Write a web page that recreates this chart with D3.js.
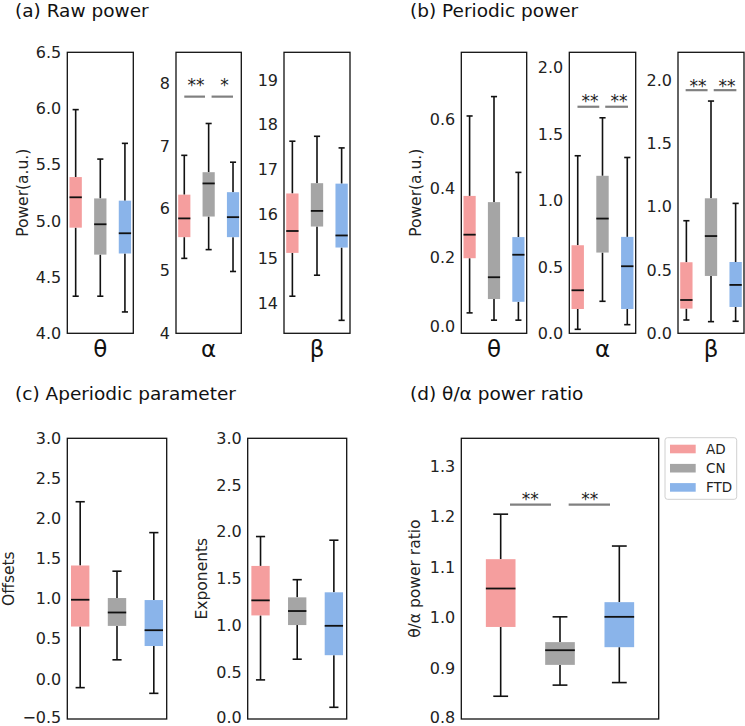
<!DOCTYPE html>
<html><head><meta charset="utf-8">
<script src="https://cdn.jsdelivr.net/npm/d3@7"></script>
<style>body{margin:0;background:#fff}svg{display:block}</style>
</head><body>
<script>
// ---------- DATA ----------
const groups = ["AD", "CN", "FTD"];
const groupColors = ["#f59e9e", "#a5a5a5", "#8ab4ea"];
// each row: [lower whisker, Q1, median, Q3, upper whisker]
const rawTheta = [[4.33,4.94,5.21,5.39,5.99],[4.33,4.70,4.97,5.20,5.55],[4.19,4.71,4.89,5.18,5.69]];
const rawAlpha = [[5.20,5.54,5.84,6.22,6.85],[5.34,5.87,6.40,6.58,7.36],[4.99,5.54,5.86,6.26,6.74]];
const rawBeta  = [[14.16,15.13,15.62,16.46,17.63],[14.63,15.72,16.07,16.69,17.74],[13.62,15.25,15.52,16.68,17.48]];
const perTheta = [[0.040,0.198,0.266,0.378,0.609],[0.019,0.080,0.143,0.360,0.665],[0.019,0.072,0.208,0.259,0.446]];
const perAlpha = [[0.030,0.183,0.324,0.663,1.337],[0.241,0.608,0.864,1.186,1.623],[0.065,0.183,0.505,0.726,1.324]];
const perBeta  = [[0.105,0.195,0.263,0.561,0.889],[0.092,0.453,0.768,1.066,1.834],[0.095,0.208,0.382,0.563,1.026]];
const offsets   = [[-0.109,0.653,0.987,1.414,2.209],[0.238,0.661,0.828,1.008,1.343],[-0.180,0.410,0.607,0.983,1.824]];
const exponents = [[0.418,1.107,1.268,1.636,1.950],[0.639,1.004,1.154,1.300,1.489],[0.125,0.682,0.996,1.354,1.911]];
const ratio     = [[0.845,0.982,1.058,1.116,1.205],[0.867,0.907,0.936,0.952,1.002],[0.872,0.942,1.002,1.031,1.142]];

const ticksRawTheta = [4.0,4.5,5.0,5.5,6.0,6.5];
const ticksRawAlpha = [4,5,6,7,8];
const ticksRawBeta  = [14,15,16,17,18,19];
const ticksPerTheta = [0.0,0.2,0.4,0.6];
const ticksPerAB    = [0.0,0.5,1.0,1.5,2.0];
const ticksOffsets  = [-0.5,0.0,0.5,1.0,1.5,2.0,2.5,3.0];
const ticksExp      = [0.0,0.5,1.0,1.5,2.0,2.5,3.0];
const ticksRatio    = [0.8,0.9,1.0,1.1,1.2,1.3];

const domRawTheta = [4.0, 6.5], domRawAlpha = [4.0, 8.5], domRawBeta = [13.33, 19.62];
const domPerTheta = [-0.019, 0.793], domPerAlpha = [0, 2.116], domPerBeta = [0, 2.219];
const domOffsets = [-0.5, 3.0], domExp = [0, 3.0], domRatio = [0.8, 1.355];

// significance: [x from, x to, y] lines and [x, y(center), label] texts
const sigRawAlphaLines = [[1.0,1.85,7.79],[2.12,3.0,7.79]];
const sigRawAlphaText  = [[1.48,8.045,"**"],[2.65,8.045,"*"]];
const sigPerAlphaLines = [[0.99,1.87,1.706],[2.11,3.03,1.706]];
const sigPerAlphaText  = [[1.5,1.777,"**"],[2.67,1.777,"**"]];
const sigPerBetaLines  = [[0.97,1.86,1.92],[2.11,3.03,1.92]];
const sigPerBetaText   = [[1.47,1.986,"**"],[2.645,1.986,"**"]];
const sigRatioLines    = [[1.157,1.848,1.224],[2.146,2.843,1.224]];
const sigRatioText     = [[1.5,1.243,"**"],[2.5,1.243,"**"]];

const titles = ["(a) Raw power","(b) Periodic power","(c) Aperiodic parameter","(d) θ/α power ratio"];

// ---------- DRAW ----------
const FONT = '"DejaVu Sans"';
const svg = d3.select("body").append("svg").attr("width",745).attr("height",726);

function txt(sel){ return sel.style("font-family",FONT); }

function panel(o){
  const g = svg.append("g");
  const x = d3.scaleLinear().domain(o.xlim || [0.66,3.34]).range([o.x0,o.x1]);
  const y = d3.scaleLinear().domain(o.dom).range([o.y1,o.y0]);
  const bw = x(0.5) - x(0);
  const ax = d3.axisLeft(y).tickValues(o.ticks).tickFormat(o.fmt).tickSize(0).tickPadding(6);
  const ag = g.append("g").attr("transform",`translate(${o.x0},0)`).call(ax);
  ag.select(".domain").remove();
  ag.selectAll("text").attr("font-size",16).attr("fill","#222").style("font-family",FONT)
    .attr("dy", d => y(d) > 715 ? "0.2em" : "0.32em");
  o.data.forEach((d,i)=>{
    const cx = x(i+1);
    const bg = g.append("g");
    bg.append("line").attr("x1",cx).attr("x2",cx).attr("y1",y(d[3])).attr("y2",y(d[4])).attr("stroke","#111").attr("stroke-width",1.6);
    bg.append("line").attr("x1",cx).attr("x2",cx).attr("y1",y(d[1])).attr("y2",y(d[0])).attr("stroke","#111").attr("stroke-width",1.6);
    [d[0],d[4]].forEach(v=>bg.append("line").attr("x1",cx-bw/4).attr("x2",cx+bw/4).attr("y1",y(v)).attr("y2",y(v)).attr("stroke","#111").attr("stroke-width",1.6));
    bg.append("rect").attr("x",cx-bw/2).attr("width",bw).attr("y",y(d[3])).attr("height",y(d[1])-y(d[3])).attr("fill",groupColors[i]);
    bg.append("line").attr("x1",cx-bw/2).attr("x2",cx+bw/2).attr("y1",y(d[2])).attr("y2",y(d[2])).attr("stroke","#111").attr("stroke-width",1.8);
  });
  (o.sigLines||[]).forEach(s=>g.append("line").attr("x1",x(s[0])).attr("x2",x(s[1])).attr("y1",y(s[2])).attr("y2",y(s[2])).attr("stroke","#808080").attr("stroke-width",2.2));
  (o.sigText||[]).forEach(s=>txt(g.append("text").attr("x",x(s[0])).attr("y",y(s[1])+10).attr("text-anchor","middle").attr("font-size",17).attr("fill","#222").text(s[2])));
  g.append("rect").attr("x",o.x0).attr("y",o.y0).attr("width",o.x1-o.x0).attr("height",o.y1-o.y0).attr("fill","none").attr("stroke","#111").attr("stroke-width",1.3);
  if(o.xlabel) txt(g.append("text").attr("x",(o.x0+o.x1)/2).attr("y",o.y1+23.5).attr("text-anchor","middle").attr("font-size",23).attr("fill","#111").text(o.xlabel));
  if(o.ylabel) txt(g.append("text").attr("transform",`translate(${o.ylx},${(o.y0+o.y1)/2}) rotate(-90)`).attr("text-anchor","middle").attr("dominant-baseline","central").attr("font-size",15.5).attr("fill","#222").text(o.ylabel));
  return {x,y};
}
const f1 = d3.format(".1f"), f0 = d3.format("d");
const T = 52.3, B = 333.3;
panel({x0:67.3,x1:133.3,y0:T,y1:B,dom:domRawTheta,ticks:ticksRawTheta,fmt:f1,data:rawTheta,xlabel:"θ",ylabel:"Power(a.u.)",ylx:22.5});
panel({x0:176,x1:241.3,y0:T,y1:B,dom:domRawAlpha,ticks:ticksRawAlpha,fmt:f0,data:rawAlpha,xlabel:"α",sigLines:sigRawAlphaLines,sigText:sigRawAlphaText});
panel({x0:284,x1:350,y0:T,y1:B,dom:domRawBeta,ticks:ticksRawBeta,fmt:f0,data:rawBeta,xlabel:"β"});
panel({x0:461.3,x1:526.7,y0:T,y1:B,dom:domPerTheta,ticks:ticksPerTheta,fmt:f1,data:perTheta,xlabel:"θ",ylabel:"Power(a.u.)",ylx:416.3});
panel({x0:569.3,x1:635.7,y0:T,y1:B,dom:domPerAlpha,ticks:ticksPerAB,fmt:f1,data:perAlpha,xlabel:"α",sigLines:sigPerAlphaLines,sigText:sigPerAlphaText});
panel({x0:678,x1:744,y0:T,y1:B,dom:domPerBeta,ticks:ticksPerAB,fmt:f1,data:perBeta,xlabel:"β",sigLines:sigPerBetaLines,sigText:sigPerBetaText});
const T2 = 438.3, B2 = 719;
panel({x0:67.3,x1:166.7,y0:T2,y1:B2,dom:domOffsets,ticks:ticksOffsets,fmt:f1,data:offsets,ylabel:"Offsets",ylx:8.5,xlim:[0.65,3.35]});
panel({x0:247.7,x1:346.7,y0:T2,y1:B2,dom:domExp,ticks:ticksExp,fmt:f1,data:exponents,ylabel:"Exponents",ylx:201.7,xlim:[0.65,3.35]});
panel({x0:461.3,x1:658.7,y0:T2,y1:B2,dom:domRatio,ticks:ticksRatio,fmt:f1,data:ratio,ylabel:"θ/α power ratio",ylx:415,xlim:[0.336,3.664],sigLines:sigRatioLines,sigText:sigRatioText});

[[15,17],[410,17],[15,399.5],[410,399.5]].forEach((p,i)=>txt(svg.append("text").attr("x",p[0]).attr("y",p[1]).attr("font-size",18.5).attr("fill","#111").text(titles[i])));

const lg = svg.append("g");
lg.append("rect").attr("x",665).attr("y",437.7).attr("width",71.7).attr("height",61.6).attr("rx",2.5).attr("fill","#fff").attr("stroke","#d0d0d0").attr("stroke-width",1);
groups.forEach((gname,i)=>{
  const cy = 449 + i*19.2;
  lg.append("rect").attr("x",670).attr("y",cy-4.3).attr("width",25.7).attr("height",8.6).attr("fill",groupColors[i]);
  txt(lg.append("text").attr("x",706).attr("y",cy).attr("dominant-baseline","central").attr("font-size",13.5).attr("fill","#222").text(gname));
});
</script>
</body></html>
